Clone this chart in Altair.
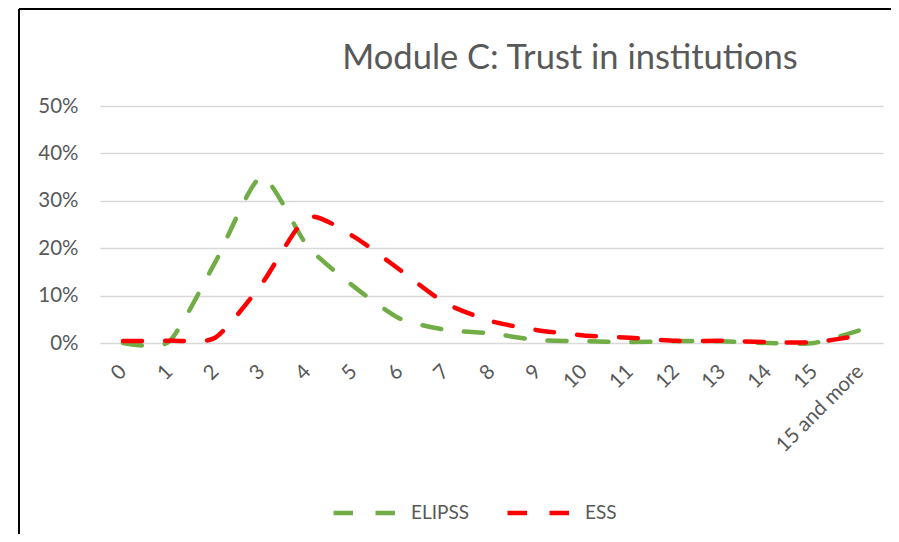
import altair as alt
import pandas as pd

categories = ["0", "1", "2", "3", "4", "5", "6", "7", "8", "9", "10",
              "11", "12", "13", "14", "15", "15 and more"]
elipss = [0.000, 0.003, 0.170, 0.350, 0.205, 0.120, 0.052, 0.028, 0.020,
          0.006, 0.004, 0.002, 0.004, 0.0035, 0.000, 0.000, 0.027]
ess = [0.004, 0.005, 0.011, 0.123, 0.265, 0.225, 0.155, 0.084, 0.046,
       0.027, 0.016, 0.011, 0.0045, 0.0045, 0.002, 0.0015, 0.016]
series_names = ["ELIPSS", "ESS"]
series_colors = ["#70AD47", "#FF0000"]
title_text = "Module C: Trust in institutions"

rows = []
for name, vals in zip(series_names, [elipss, ess]):
    for c, v in zip(categories, vals):
        rows.append({"cat": c, "value": v, "series": name})
df = pd.DataFrame(rows)

FONT = "Lato"
GREY = "#595959"

lines = alt.Chart(df).mark_line(
    strokeWidth=4.5, strokeCap="round", strokeDash=[19, 23],
    interpolate="cardinal", tension=0.35
).encode(
    x=alt.X("cat:N", sort=categories, title=None,
            scale=alt.Scale(padding=0.5),
            axis=alt.Axis(labelAngle=315, labelAlign="right", labelBaseline="middle",
                          labelPadding=25, domain=False, ticks=False, grid=False,
                          labelFont=FONT, labelFontSize=20.5, labelColor=GREY)),
    y=alt.Y("value:Q", title=None, scale=alt.Scale(domain=[0, 0.5]),
            axis=alt.Axis(format=".0%", values=[0, 0.1, 0.2, 0.3, 0.4, 0.5],
                          domain=False, ticks=False, gridColor="#D9D9D9", gridWidth=1.3,
                          labelPadding=22, labelFont=FONT, labelFontSize=20.5,
                          labelColor=GREY)),
    color=alt.Color("series:N", sort=series_names,
                    scale=alt.Scale(domain=series_names, range=series_colors),
                    legend=alt.Legend(title=None, orient="none", direction="horizontal",
                                      legendX=231, legendY=372,
                                      symbolType="stroke", symbolSize=4225,
                                      symbolStrokeWidth=4.5, symbolDash=[19.5, 22.5],
                                      labelFont=FONT, labelFontSize=19, labelColor=GREY,
                                      labelOffset=10, columnPadding=28, padding=0)),
)

title = alt.Chart(alt.Data(values=[{"t": title_text}])).mark_text(
    font=FONT, fontSize=34.5, color=GREY, align="center", baseline="alphabetic"
).encode(text="t:N", x=alt.value(470), y=alt.value(-37))

frame = alt.Data(values=[{"k": 1}])
left_border = alt.Chart(frame).mark_rule(color="#000000", strokeWidth=2).encode(
    x=alt.value(-81), y=alt.value(-97), y2=alt.value(700))
top_border = alt.Chart(frame).mark_rule(color="#000000", strokeWidth=2).encode(
    x=alt.value(-81), x2=alt.value(900), y=alt.value(-97))

chart = alt.layer(lines, title, left_border, top_border).properties(
    width=783, height=237,
    autosize=alt.AutoSizeParams(type="none"),
    padding={"left": 92, "top": 98, "right": 8, "bottom": 191},
).configure_view(stroke=None)

chart.save("out.html", embed_options={"renderer": "svg", "actions": False})
